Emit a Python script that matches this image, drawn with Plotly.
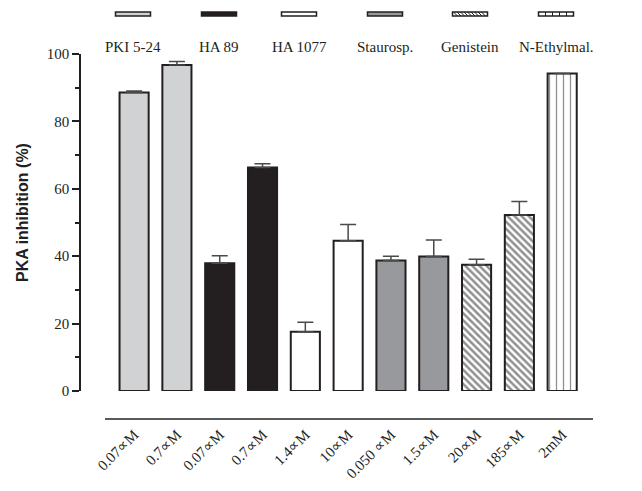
import plotly.graph_objects as go

W, H = 642, 491

# ---- data ----
labels = ["0.07∝M", "0.7∝M", "0.07∝M", "0.7∝M", "1.4∝M", "10∝M",
          "0.050 ∝M", "1.5∝M", "20∝M", "185∝M", "2mM"]
values = [88.6, 96.7, 37.9, 66.3, 17.6, 44.6, 38.7, 39.9, 37.5, 52.2, 94.2]
errors = [0.4, 1.1, 2.2, 1.1, 2.8, 4.8, 1.3, 4.9, 1.6, 4.0, 0.0]
groups = ["PKI 5-24", "PKI 5-24", "HA 89", "HA 89", "HA 1077", "HA 1077",
          "Staurosp.", "Staurosp.", "Genistein", "Genistein", "N-Ethylmal."]
group_names = ["PKI 5-24", "HA 89", "HA 1077", "Staurosp.", "Genistein", "N-Ethylmal."]
y_ticks = [0, 20, 40, 60, 80, 100]

# ---- styles ----
DARK = "#231f20"
styles = {
    "PKI 5-24": dict(color="#d1d2d4"),
    "HA 89": dict(color=DARK),
    "HA 1077": dict(color="#ffffff"),
    "Staurosp.": dict(color="#98999c"),
    "Genistein": dict(color="#ffffff", pattern=dict(shape="\\", size=5, solidity=0.5,
                                                     fgcolor=DARK, bgcolor="#ffffff")),
    "N-Ethylmal.": dict(color="#ffffff", pattern=dict(shape="|", size=7, solidity=0.18,
                                                       fgcolor=DARK, bgcolor="#ffffff")),
}

def px(x):
    return x / W

def py(y):
    return 1 - y / H

fig = go.Figure()
for g in group_names:
    idx = [i for i, gg in enumerate(groups) if gg == g]
    st = styles[g]
    marker = dict(color=st["color"], line=dict(color=DARK, width=2))
    if "pattern" in st:
        marker["pattern"] = st["pattern"]
    fig.add_trace(go.Bar(
        x=idx, y=[values[i] for i in idx], width=0.68,
        marker=marker, showlegend=False, name=g,
        error_y=dict(type="data", symmetric=False,
                     array=[errors[i] for i in idx],
                     arrayminus=[0] * len(idx),
                     color="#4a4a4a", thickness=1.5, width=8),
    ))

# ---- custom legend (symbol above label) ----
shapes = []
annotations = []
leg_cx = [133, 219, 299, 385, 470, 556]
sw, y0, y1 = 35, 12, 16
for g, cx in zip(group_names, leg_cx):
    x0, x1 = cx - sw / 2, cx + sw / 2
    fill = styles[g]["color"]
    shapes.append(dict(type="rect", xref="paper", yref="paper",
                       x0=px(x0), x1=px(x1), y0=py(y1), y1=py(y0),
                       fillcolor=fill, line=dict(color=DARK, width=1.5)))
    if g == "Genistein":
        xs = x0 + 1
        while xs + 4 <= x1:
            shapes.append(dict(type="line", xref="paper", yref="paper",
                               x0=px(xs), y0=py(y0), x1=px(xs + 4), y1=py(y1),
                               line=dict(color=DARK, width=1)))
            xs += 3.5
    if g == "N-Ethylmal.":
        for k in range(1, 5):
            xx = x0 + k * sw / 5
            shapes.append(dict(type="line", xref="paper", yref="paper",
                               x0=px(xx), y0=py(y0), x1=px(xx), y1=py(y1),
                               line=dict(color=DARK, width=1)))
    annotations.append(dict(text=g, xref="paper", yref="paper", x=px(cx), y=py(47),
                            showarrow=False, xanchor="center", yanchor="middle",
                            font=dict(family="Liberation Serif", size=15, color=DARK)))

annotations.append(dict(text="<b>PKA inhibition (%)</b>", xref="paper", yref="paper",
                        x=px(22), y=py(213), textangle=-90, showarrow=False,
                        xanchor="center", yanchor="middle",
                        font=dict(family="Liberation Sans", size=16, color=DARK)))

fig.update_layout(
    width=W, height=H,
    margin=dict(l=0, r=0, t=0, b=0, autoexpand=False),
    paper_bgcolor="white", plot_bgcolor="white",
    bargap=0.3,
    shapes=shapes, annotations=annotations,
    xaxis=dict(domain=[px(105), px(593)], anchor="free", position=py(419),
               automargin=False,
               range=[-0.68, 10.72], tickmode="array",
               tickvals=list(range(len(labels))), ticktext=labels,
               tickangle=-45, showline=True, linecolor="#5a5a5a", linewidth=2,
               ticks="", showgrid=False, zeroline=False,
               tickfont=dict(family="Liberation Serif", size=15, color=DARK)),
    yaxis=dict(domain=[py(391), py(54)], anchor="free", position=px(80),
               automargin=False,
               range=[0, 100], tickvals=y_ticks, ticks="outside", ticklen=7,
               tickwidth=1.5, tickcolor=DARK,
               minor=dict(dtick=10, ticks="outside", ticklen=4, tickwidth=1.5, tickcolor=DARK),
               showline=True, linecolor=DARK, linewidth=1.5,
               showgrid=False, zeroline=False,
               tickfont=dict(family="Liberation Serif", size=15, color=DARK)),
)

fig.write_html("out.html", config={"displayModeBar": False},
               post_script="document.body.style.margin='0';document.body.style.overflow='hidden';")
